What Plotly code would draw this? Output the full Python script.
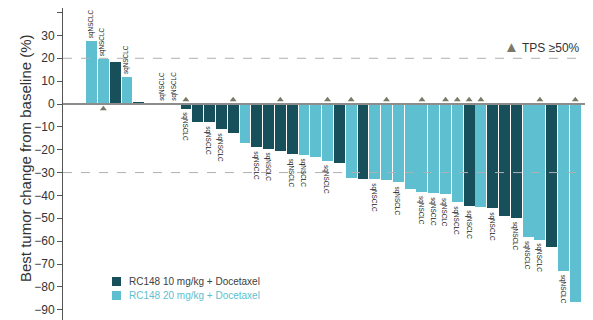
import plotly.graph_objects as go

# best % change from baseline, one value per patient (sorted waterfall)
change = [27.5, 19.5, 18.5, 12, 1, 0, 0, 0, -2, -7.7, -8, -11, -12.5, -17, -19, -19.5,
          -20.5, -22, -22.3, -23.3, -25, -25.6, -32.3, -32.8, -33, -33.4, -34.3, -37,
          -38.7, -39.1, -39.4, -42.9, -44.6, -45.1, -45.7, -49.1, -49.7, -58, -59.4,
          -62.6, -73, -86.5]
# RC148 dose (mg/kg)
dose = [20, 20, 10, 20, 10, 20, 20, 20, 10, 10, 10, 10, 10, 20, 10, 10, 10, 10, 20, 20, 20,
        10, 20, 10, 20, 20, 20, 20, 20, 20, 20, 20, 10, 20, 10, 10, 10, 20, 20, 10, 20, 20]
sq_idx = [0, 1, 3, 6, 7, 8, 10, 11, 14, 15, 17, 18, 20, 24, 26, 28, 29, 30, 31, 32, 34,
          36, 37, 38, 40]
tps_idx = [1, 8, 12, 16, 20, 22, 25, 28, 30, 31, 32, 33, 38, 41]

histology = ["sqNSCLC" if i in sq_idx else "" for i in range(len(change))]
tps50 = [i in tps_idx for i in range(len(change))]

DARK = "#174f5b"
LIGHT = "#5dbfcf"
TRI = "#7a7866"
colors = {10: DARK, 20: LIGHT}

x = list(range(len(change)))

fig = go.Figure()
fig.add_trace(go.Bar(
    x=x, y=change, width=0.92,
    marker=dict(color=[colors[d] for d in dose], line=dict(width=0)),
    showlegend=False, hoverinfo="y"))

# TPS >= 50% flags: above the zero line for shrinking tumours, below for growing ones
tx = [i for i in x if tps50[i]]
ty = [1.9 if change[i] <= 0 else -2.1 for i in tx]
fig.add_trace(go.Scatter(
    x=tx, y=ty, mode="markers",
    marker=dict(symbol="triangle-up", size=6, color=TRI),
    showlegend=False, hoverinfo="skip"))

lab_font = dict(family="Liberation Sans", size=6.4, color="#222")
for i in x:
    if not histology[i]:
        continue
    if change[i] >= 0:
        fig.add_annotation(x=i, y=change[i], text=histology[i], textangle=-90,
                           showarrow=False, xanchor="center", yanchor="bottom",
                           yshift=2, xshift=-1, borderpad=0, font=lab_font)
    else:
        fig.add_annotation(x=i, y=change[i], text=histology[i], textangle=90,
                           showarrow=False, xanchor="center", yanchor="top",
                           yshift=-3, xshift=-1, borderpad=0, font=lab_font)

# reference lines
fig.add_hline(y=0, line=dict(color="#8c8c8c", width=2))
for ref in (20, -30):
    fig.add_shape(type="line", xref="paper", x0=0, x1=0.995, y0=ref, y1=ref,
                  line=dict(color="#b0b0b0", width=1, dash="dash"))


# the page body has an 8px margin, so the figure starts at (8, 8) in the window
def px(xp, yp):
    # window pixel -> paper coordinates for the plot area (63..593, 8..320)
    return (xp - 63) / 530, (320 - yp) / 312


# y axis title
tx0, ty0 = px(25, 158)
fig.add_annotation(xref="paper", yref="paper", x=tx0, y=ty0,
                   text="Best tumor change from baseline (%)",
                   textangle=-90, showarrow=False, xanchor="center", yanchor="middle",
                   font=dict(family="Liberation Sans", size=15, color="#333"))

# TPS legend
lx, ly = px(502, 46)
fig.add_annotation(xref="paper", yref="paper", x=lx, y=ly, xanchor="left", yanchor="middle",
                   text="<span style='color:%s;font-size:15px'>▲</span> TPS ≥50%%" % TRI,
                   showarrow=False,
                   font=dict(family="Liberation Sans", size=12, color="#333"))

# dose legend
for d, yc in [(10, 281.5), (20, 295.5)]:
    x0, y0 = px(112, yc - 4.5)
    x1, y1 = px(121, yc + 4.5)
    fig.add_shape(type="rect", xref="paper", yref="paper", x0=x0, x1=x1, y0=y1, y1=y0,
                  fillcolor=colors[d], line=dict(width=0))
    ax, ay = px(127, yc)
    fig.add_annotation(xref="paper", yref="paper", x=ax, y=ay, xanchor="left", yanchor="middle",
                       text="RC148 %d mg/kg + Docetaxel" % d, showarrow=False,
                       font=dict(family="Liberation Sans", size=10,
                                 color="#404040" if d == 10 else LIGHT))

fig.update_layout(
    width=585, height=312,
    margin=dict(l=55, r=0, t=0, b=0),
    paper_bgcolor="white", plot_bgcolor="white",
    bargap=0,
    xaxis=dict(visible=False, range=[-2.42, 42.5]),
    yaxis=dict(range=[-94.5, 42], dtick=10, showgrid=False, zeroline=False,
               showline=True, linecolor="#555", linewidth=1,
               ticks="outside", ticklen=5, tickcolor="#555",
               tickfont=dict(family="Liberation Sans", size=12, color="#333")),
)

fig.write_html("out.html")
